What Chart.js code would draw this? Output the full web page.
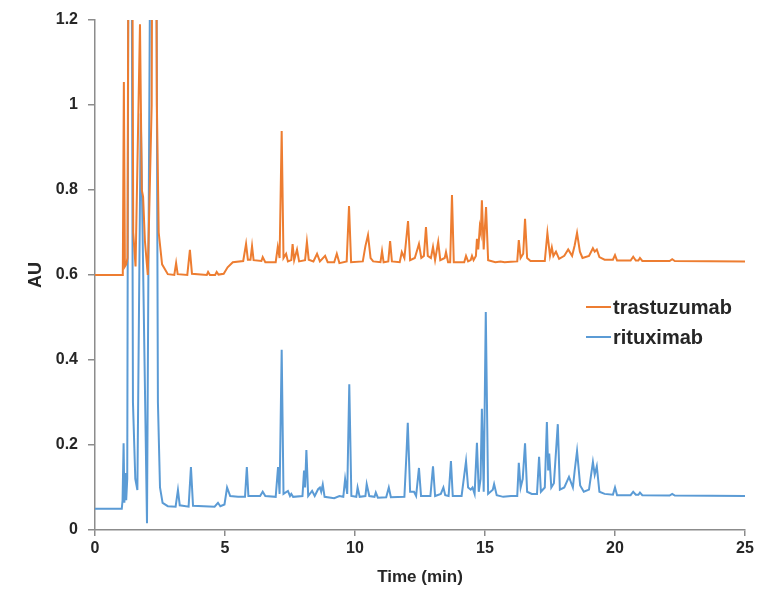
<!DOCTYPE html>
<html>
<head>
<meta charset="utf-8">
<script src="https://cdn.jsdelivr.net/npm/chart.js@4.4.1/dist/chart.umd.min.js"></script>
<style>
  html, body { margin: 0; padding: 0; background: #ffffff; }
  #wrap { width: 782px; height: 592px; position: relative; }
</style>
</head>
<body>
<div id="wrap"><canvas id="chrom" width="782" height="592"></canvas></div>
<script>
// Retention time (min) and absorbance (AU) for each chromatogram trace
const trastuzumabTime = [
  0, 1.05, 1.07, 1.11, 1.15, 1.2, 1.25, 1.36, 1.47, 1.56, 1.73, 1.8, 1.85, 1.92, 2.03,
  2.18, 2.28, 2.38, 2.45, 2.58, 2.8, 3.05, 3.12, 3.18, 3.55, 3.65, 3.73, 4.3, 4.35, 4.42,
  4.62, 4.68, 4.75, 4.95, 5.1, 5.3, 5.7, 5.81, 5.88, 5.98, 6.04, 6.1, 6.4, 6.45, 6.55,
  6.95, 7.03, 7.1, 7.18, 7.25, 7.35, 7.42, 7.55, 7.6, 7.66, 7.77, 7.85, 8.08, 8.15, 8.22,
  8.4, 8.54, 8.65, 8.85, 8.95, 9.2, 9.3, 9.4, 9.68, 9.77, 9.85, 10.3, 10.4, 10.5, 10.6,
  10.7, 10.98, 11.04, 11.1, 11.28, 11.35, 11.42, 11.72, 11.8, 11.9, 12.04, 12.12, 12.3, 12.46, 12.55,
  12.65, 12.73, 12.8, 12.92, 13.0, 13.08, 13.2, 13.28, 13.45, 13.5, 13.58, 13.66, 13.73, 13.8, 14.2,
  14.27, 14.35, 14.45, 14.5, 14.56, 14.65, 14.69, 14.74, 14.8, 14.84, 14.88, 14.95, 15.04, 15.12, 15.4,
  15.6, 15.75, 16.0, 16.24, 16.3, 16.37, 16.47, 16.54, 16.62, 16.75, 17.3, 17.4, 17.5, 17.57, 17.63,
  17.73, 17.85, 18.05, 18.2, 18.35, 18.45, 18.54, 18.65, 18.75, 19.0, 19.15, 19.22, 19.3, 19.4, 19.6,
  19.92, 20.0, 20.08, 20.6, 20.7, 20.8, 20.9, 20.96, 21.05, 22.1, 22.2, 22.3, 25
];
const trastuzumabAU = [
  0.6, 0.6, 0.61, 1.054, 0.62, 0.625, 0.64, 3.0, 0.7, 0.62, 1.19, 0.8, 0.784, 0.68, 0.6,
  1.0, 3.0, 1.0, 0.7, 0.625, 0.602, 0.6, 0.628, 0.602, 0.6, 0.659, 0.603, 0.6, 0.607, 0.6,
  0.6, 0.607, 0.601, 0.603, 0.618, 0.63, 0.633, 0.673, 0.636, 0.636, 0.668, 0.635, 0.633, 0.642, 0.63,
  0.63, 0.666, 0.64, 0.939, 0.64, 0.65, 0.632, 0.635, 0.673, 0.635, 0.66, 0.632, 0.635, 0.678, 0.636,
  0.632, 0.65, 0.632, 0.645, 0.63, 0.63, 0.65, 0.628, 0.632, 0.762, 0.63, 0.632, 0.668, 0.694, 0.64,
  0.632, 0.63, 0.656, 0.63, 0.632, 0.68, 0.632, 0.63, 0.654, 0.64, 0.727, 0.635, 0.64, 0.673, 0.64,
  0.645, 0.713, 0.645, 0.64, 0.666, 0.635, 0.678, 0.635, 0.64, 0.654, 0.63, 0.63, 0.788, 0.63, 0.63,
  0.645, 0.632, 0.635, 0.645, 0.635, 0.645, 0.685, 0.66, 0.713, 0.7, 0.776, 0.66, 0.76, 0.635, 0.63,
  0.632, 0.63, 0.631, 0.632, 0.682, 0.64, 0.65, 0.732, 0.64, 0.633, 0.633, 0.699, 0.645, 0.665, 0.645,
  0.655, 0.638, 0.645, 0.66, 0.645, 0.67, 0.699, 0.655, 0.64, 0.645, 0.663, 0.655, 0.66, 0.642, 0.636,
  0.636, 0.647, 0.634, 0.634, 0.643, 0.634, 0.634, 0.64, 0.633, 0.633, 0.637, 0.633, 0.632
];

const rituximabTime = [
  0, 1.03, 1.06, 1.1, 1.13, 1.17, 1.2, 1.24, 1.34, 1.46, 1.55, 1.63, 1.76, 2.0, 2.27,
  2.38, 2.42, 2.5, 2.6, 2.8, 3.1, 3.19, 3.26, 3.6, 3.69, 3.77, 4.6, 4.73, 4.82, 4.98,
  5.08, 5.2, 5.5, 5.77, 5.84, 5.9, 6.35, 6.45, 6.55, 6.95, 7.04, 7.1, 7.18, 7.25, 7.42,
  7.5, 7.55, 7.62, 7.98, 8.04, 8.08, 8.13, 8.2, 8.35, 8.45, 8.58, 8.65, 8.7, 8.76, 8.83,
  9.2, 9.4, 9.55, 9.62, 9.7, 9.78, 9.86, 10.05, 10.1, 10.18, 10.4, 10.45, 10.55, 10.75, 10.8,
  10.88, 11.2, 11.3, 11.38, 11.9, 11.98, 12.03, 12.12, 12.27, 12.35, 12.46, 12.54, 12.9, 13.0, 13.08,
  13.3, 13.4, 13.47, 13.6, 13.69, 13.76, 14.1, 14.27, 14.35, 14.45, 14.52, 14.6, 14.69, 14.76, 14.83,
  14.88, 14.95, 15.03, 15.12, 15.3, 15.35, 15.45, 15.7, 16.0, 16.24, 16.3, 16.37, 16.45, 16.54, 16.62,
  16.8, 17.0, 17.08, 17.15, 17.3, 17.38, 17.43, 17.47, 17.55, 17.65, 17.8, 17.88, 18.05, 18.23, 18.38,
  18.45, 18.54, 18.66, 18.8, 19.0, 19.15, 19.22, 19.3, 19.4, 19.6, 19.92, 20.0, 20.08, 20.6, 20.7,
  20.8, 20.9, 20.96, 21.05, 22.1, 22.2, 22.3, 25
];
const rituximabAU = [
  0.05, 0.05, 0.07, 0.204, 0.064, 0.134, 0.07, 0.12, 3.0, 0.3, 0.12, 0.094, 0.98, 0.016, 3.0,
  1.0, 0.3, 0.1, 0.064, 0.056, 0.055, 0.094, 0.058, 0.055, 0.148, 0.057, 0.055, 0.064, 0.056, 0.06,
  0.1, 0.08, 0.078, 0.078, 0.148, 0.08, 0.08, 0.09, 0.08, 0.078, 0.148, 0.085, 0.424, 0.085, 0.092,
  0.08, 0.085, 0.078, 0.08, 0.14, 0.1, 0.188, 0.08, 0.092, 0.08, 0.096, 0.1, 0.09, 0.107, 0.078,
  0.075, 0.08, 0.078, 0.12, 0.085, 0.343, 0.08, 0.078, 0.1, 0.078, 0.08, 0.108, 0.08, 0.078, 0.088,
  0.076, 0.077, 0.1, 0.077, 0.078, 0.18, 0.252, 0.09, 0.09, 0.08, 0.146, 0.08, 0.08, 0.15, 0.08,
  0.085, 0.1, 0.082, 0.08, 0.162, 0.08, 0.08, 0.162, 0.1, 0.095, 0.1, 0.085, 0.205, 0.09, 0.12,
  0.285, 0.09, 0.513, 0.085, 0.095, 0.108, 0.082, 0.078, 0.08, 0.08, 0.158, 0.1, 0.12, 0.204, 0.09,
  0.085, 0.085, 0.172, 0.09, 0.1, 0.254, 0.14, 0.18, 0.1, 0.11, 0.249, 0.095, 0.1, 0.125, 0.1,
  0.14, 0.186, 0.105, 0.09, 0.095, 0.16, 0.13, 0.15, 0.09, 0.085, 0.083, 0.1, 0.082, 0.082, 0.09,
  0.083, 0.083, 0.088, 0.082, 0.081, 0.085, 0.081, 0.08
];

const timeTicks = [0, 5, 10, 15, 20, 25];
const auTicks = [0, 0.2, 0.4, 0.6, 0.8, 1, 1.2];

const toPoints = (xs, ys) => xs.map((x, i) => ({ x: x, y: ys[i] }));

const FONT = "'Liberation Sans', Arial, sans-serif";
const AXIS_GREY = '#8c8c8c';
const TEXT = '#262626';

// Line-sample legend placed inside the plot, to the right
const insideLegend = {
  id: 'insideLegend',
  afterDraw(chart) {
    const { ctx, chartArea } = chart;
    const x0 = chartArea.right - 159;
    const y0 = chartArea.top + 287;
    const rowGap = 30;
    ctx.save();
    ctx.font = 'bold 20px ' + FONT;
    ctx.textBaseline = 'middle';
    ctx.textAlign = 'left';
    chart.data.datasets.forEach((ds, i) => {
      const y = y0 + i * rowGap;
      ctx.strokeStyle = ds.borderColor;
      ctx.lineWidth = 2;
      ctx.beginPath();
      ctx.moveTo(x0, y);
      ctx.lineTo(x0 + 25, y);
      ctx.stroke();
      ctx.fillStyle = TEXT;
      ctx.fillText(ds.label, x0 + 27, y + 1);
    });
    ctx.restore();
  }
};

new Chart(document.getElementById('chrom'), {
  type: 'line',
  data: {
    datasets: [
      {
        label: 'trastuzumab',
        data: toPoints(trastuzumabTime, trastuzumabAU),
        borderColor: '#ED7D31',
        borderWidth: 2,
        pointRadius: 0,
        tension: 0,
        fill: false
      },
      {
        label: 'rituximab',
        data: toPoints(rituximabTime, rituximabAU),
        borderColor: '#5B9BD5',
        borderWidth: 2,
        pointRadius: 0,
        tension: 0,
        fill: false
      }
    ]
  },
  options: {
    responsive: false,
    animation: false,
    devicePixelRatio: 1,
    layout: { padding: { top: 20, right: 37, bottom: 0, left: 0 } },
    plugins: {
      legend: { display: false },
      tooltip: { enabled: false }
    },
    scales: {
      x: {
        type: 'linear',
        min: 0,
        max: 25,
        afterBuildTicks: (s) => { s.ticks = timeTicks.map(v => ({ value: v })); },
        afterFit: (s) => { s.height = 62; },
        ticks: {
          color: TEXT,
          font: { family: FONT, size: 16, weight: 'bold' },
          padding: 3,
          maxRotation: 0,
          callback: (v) => String(v)
        },
        grid: { display: true, drawOnChartArea: false, drawTicks: true, tickLength: 6, color: AXIS_GREY, lineWidth: 1.5 },
        border: { display: true, color: AXIS_GREY, width: 1.5 },
        title: {
          display: true,
          text: 'Time (min)',
          color: TEXT,
          font: { family: FONT, size: 17, weight: 'bold' },
          padding: { top: 4, bottom: 4 }
        }
      },
      y: {
        min: 0,
        max: 1.2,
        afterBuildTicks: (s) => { s.ticks = auTicks.map(v => ({ value: v })); },
        afterFit: (s) => { s.width = 95; },
        ticks: {
          color: TEXT,
          font: { family: FONT, size: 16, weight: 'bold' },
          padding: 10,
          callback: (v) => String(v)
        },
        grid: { display: true, drawOnChartArea: false, drawTicks: true, tickLength: 7, color: AXIS_GREY, lineWidth: 1.5 },
        border: { display: true, color: AXIS_GREY, width: 1.5 },
        title: {
          display: true,
          text: 'AU',
          color: TEXT,
          font: { family: FONT, size: 18, weight: 'bold' },
          padding: { top: 25, bottom: 0 }
        }
      }
    }
  },
  plugins: [insideLegend]
});
</script>
</body>
</html>
